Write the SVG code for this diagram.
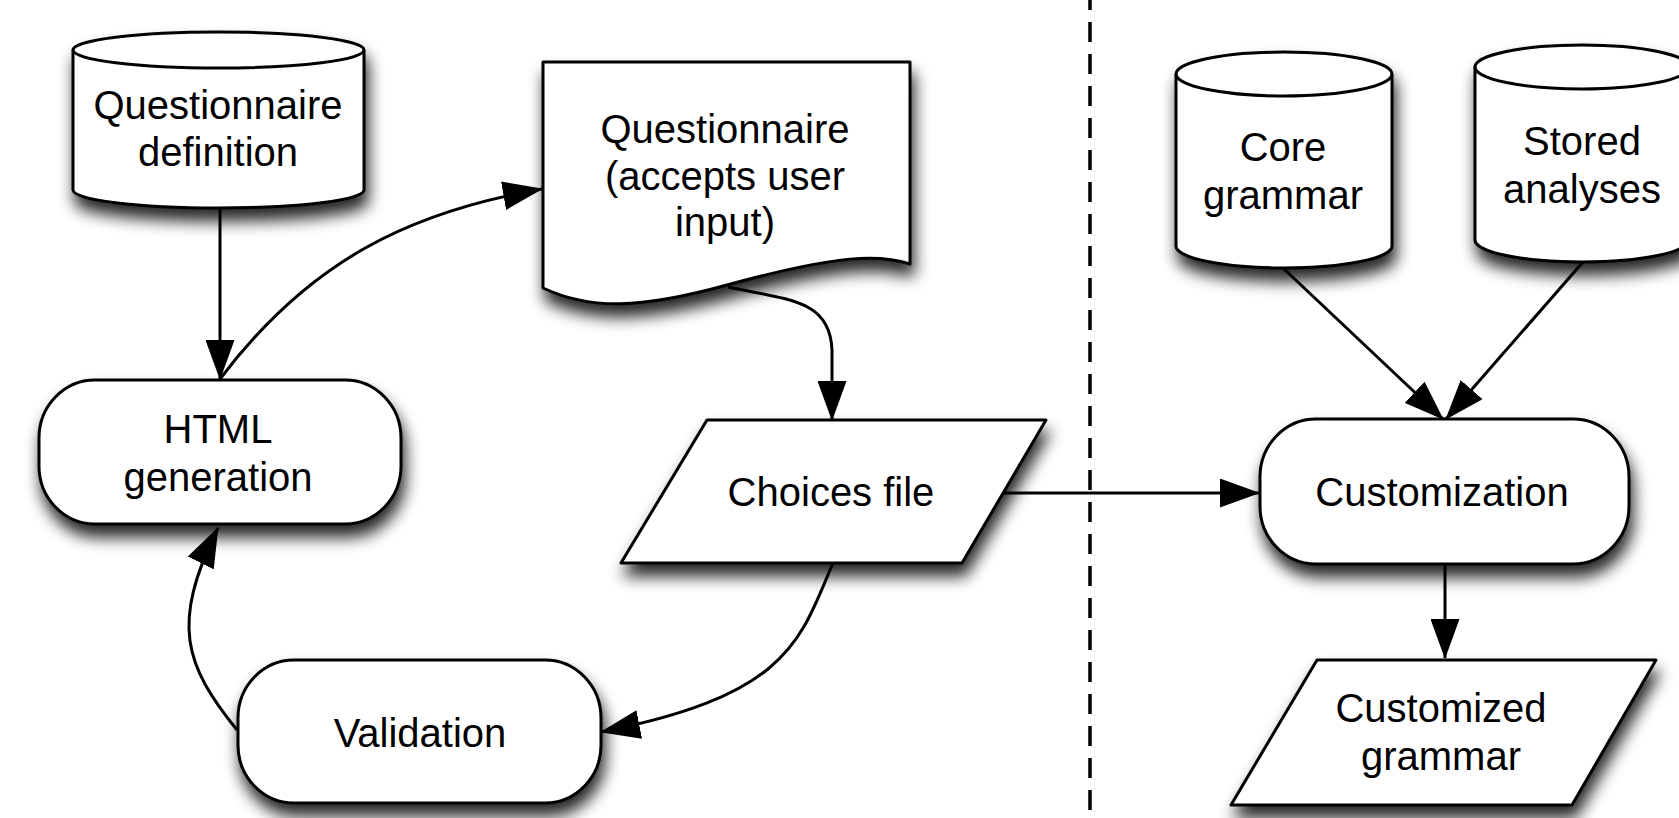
<svg xmlns="http://www.w3.org/2000/svg" width="1679" height="818" viewBox="0 0 1679 818">
  <defs>
    <style>
      .shape { fill: #ffffff; stroke: #000000; stroke-width: 3; stroke-linejoin: round; filter: url(#shadow); }
      .rim { fill: none; stroke: #000000; stroke-width: 3; }
      .label { font-family: "Liberation Sans", Arial, Helvetica, sans-serif; font-size: 40px; fill: #000000; text-anchor: middle; }
      .edge { fill: none; stroke: #000000; stroke-width: 3; marker-end: url(#arrow); }
      .divider { fill: none; stroke: #000000; stroke-width: 3.5; stroke-dasharray: 20 12; stroke-dashoffset: 10; }
    </style>
    <filter id="shadow" x="-20%" y="-25%" width="150%" height="170%">
      <feGaussianBlur in="SourceAlpha" stdDeviation="8"/>
      <feOffset dx="3" dy="12"/>
      <feComponentTransfer>
        <feFuncA type="linear" slope="0.85"/>
      </feComponentTransfer>
      <feMerge>
        <feMergeNode/>
        <feMergeNode in="SourceGraphic"/>
      </feMerge>
    </filter>
    <marker id="arrow" markerUnits="userSpaceOnUse" markerWidth="40" markerHeight="29" viewBox="0 0 40 29" refX="39" refY="14.5" orient="auto">
      <path d="M0,0 L40,14.5 L0,29 Z" fill="#000000"/>
    </marker>
  </defs>

  <!-- boundary between the two halves of the process -->
  <line class="divider" x1="1090" y1="0" x2="1090" y2="818"/>

  <g id="questionnaire-definition">
    <path class="shape" d="M73,50 L73,190 A145.5,18 0 0 0 364,190 L364,50 A145.5,18 0 0 0 73,50 Z"/>
    <path class="rim" d="M73,50 A145.5,18 0 0 0 364,50"/>
    <text class="label" x="218" y="119">Questionnaire</text>
    <text class="label" x="218" y="166">definition</text>
  </g>

  <g id="questionnaire">
    <path class="shape" d="M543,62 L910,62 L910,264 C880,254 840,254 727,285 C640,309 590,310 543,288 Z"/>
    <text class="label" x="725" y="143">Questionnaire</text>
    <text class="label" x="725" y="190">(accepts user</text>
    <text class="label" x="725" y="236">input)</text>
  </g>

  <g id="html-generation">
    <rect class="shape" x="39" y="380" width="362" height="144" rx="56" ry="58"/>
    <text class="label" x="218" y="443">HTML</text>
    <text class="label" x="218" y="491">generation</text>
  </g>

  <g id="choices-file">
    <path class="shape" d="M707,420 L1046,420 L962,563 L621,563 Z"/>
    <text class="label" x="831" y="506">Choices file</text>
  </g>

  <g id="validation">
    <rect class="shape" x="238" y="660" width="363" height="143" rx="56" ry="58"/>
    <text class="label" x="420" y="747">Validation</text>
  </g>

  <g id="core-grammar">
    <path class="shape" d="M1176,74 L1176,246 A108,22 0 0 0 1392,246 L1392,74 A108,22 0 0 0 1176,74 Z"/>
    <path class="rim" d="M1176,74 A108,22 0 0 0 1392,74"/>
    <text class="label" x="1283" y="161">Core</text>
    <text class="label" x="1283" y="209">grammar</text>
  </g>

  <g id="stored-analyses">
    <path class="shape" d="M1475,67 L1475,240 A107,22 0 0 0 1689,240 L1689,67 A107,22 0 0 0 1475,67 Z"/>
    <path class="rim" d="M1475,67 A107,22 0 0 0 1689,67"/>
    <text class="label" x="1582" y="155">Stored</text>
    <text class="label" x="1582" y="203">analyses</text>
  </g>

  <g id="customization">
    <rect class="shape" x="1260" y="419" width="369" height="145" rx="56" ry="58"/>
    <text class="label" x="1442" y="506">Customization</text>
  </g>

  <g id="customized-grammar">
    <path class="shape" d="M1317,660 L1656,660 L1572,805 L1231,805 Z"/>
    <text class="label" x="1441" y="722">Customized</text>
    <text class="label" x="1441" y="770">grammar</text>
  </g>

  <g id="connectors">
    <path class="edge" d="M220,208 L220,379"/>
    <path class="edge" d="M220,379 C310,260 410,212 542,189"/>
    <path class="edge" d="M728,287 C790,300 830,300 832,350 L832,420"/>
    <path class="edge" d="M1003,493 L1259,493"/>
    <path class="edge" d="M833,563 C800,640 790,695 601,732"/>
    <path class="edge" d="M237,730 C185,665 170,625 218,528"/>
    <path class="edge" d="M1283,268 L1443,419"/>
    <path class="edge" d="M1583,262 L1446,419"/>
    <path class="edge" d="M1445,564 L1445,658"/>
  </g>
</svg>
